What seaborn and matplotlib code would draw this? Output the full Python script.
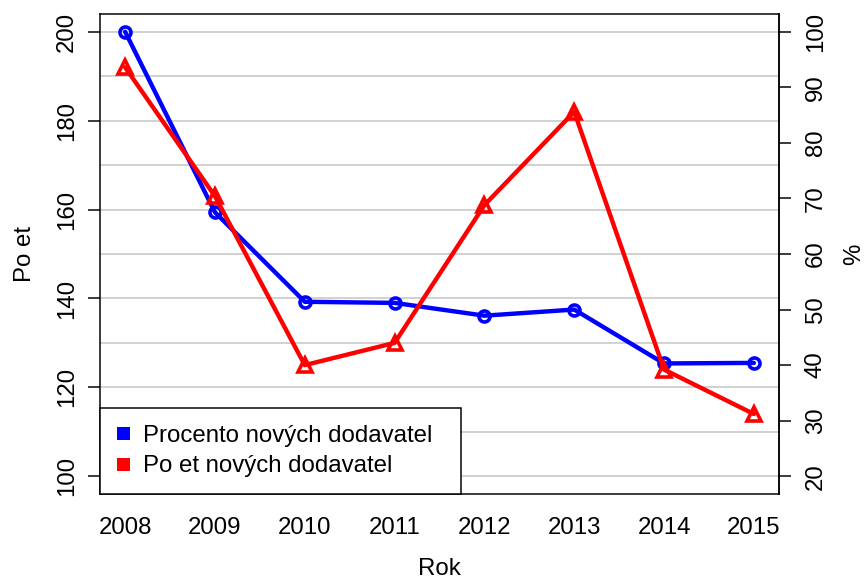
import matplotlib.pyplot as plt
import seaborn as sns
from matplotlib.lines import Line2D

# data
years = [2008, 2009, 2010, 2011, 2012, 2013, 2014, 2015]
procento = [100.0, 67.5, 51.4, 51.2, 48.9, 50.0, 40.3, 40.4]   # right axis (%)
pocet = [192, 163, 125, 130, 161, 182, 124, 114]               # left axis (count)

left_ticks = [100, 120, 140, 160, 180, 200]
grid_levels = [100, 110, 120, 130, 140, 150, 160, 170, 180, 190, 200]
right_ticks = [20, 30, 40, 50, 60, 70, 80, 90, 100]

legend_labels = ["Procento nových dodavatel", "Po et nových dodavatel"]

sns.set_style("white")
plt.rcParams['font.family'] = ['Liberation Sans', 'DejaVu Sans']
plt.rcParams['font.size'] = 12
for key in ('text.color', 'axes.labelcolor', 'xtick.color', 'ytick.color'):
    plt.rcParams[key] = 'black'

fig = plt.figure(figsize=(6, 581 / 144), dpi=144)
ax = fig.add_axes([100 / 864, 1 - 494 / 581, 679 / 864, 480 / 581])
ax2 = ax.twinx()   # percent scale, blue line
ax3 = ax.twinx()   # count scale again, red line on top

# grid on the bottom axes
ax.set_ylim(96, 204)
ax.set_yticks(left_ticks)
ax.set_yticks(grid_levels, minor=True)
ax.grid(True, axis='y', which='both', color='#c8c8c8', linewidth=0.8)
ax.tick_params(axis='y', which='minor', length=0)

ax2.set_ylim(16.8, 103.2)
ax2.set_yticks(right_ticks)
ax3.set_ylim(96, 204)
ax3.yaxis.set_visible(False)

sns.lineplot(x=years, y=procento, ax=ax2, color='blue', linewidth=2.2,
             marker='o', markersize=5.5, markeredgewidth=1.8,
             markerfacecolor='none', markeredgecolor='blue', legend=False)
sns.lineplot(x=years, y=pocet, ax=ax3, color='red', linewidth=2.2,
             marker='^', markersize=7, markeredgewidth=1.8,
             markerfacecolor='none', markeredgecolor='red', legend=False)

ax.set_xlim(2007.72, 2015.28)
ax.set_xticks(years)
ax.set_xticklabels([str(y) for y in years])

for a in (ax, ax2, ax3):
    for s in a.spines.values():
        s.set_color('black')
        s.set_linewidth(0.75)
ax3.spines[:].set_visible(False)
ax2.spines[['left', 'top', 'bottom']].set_visible(False)

ax.tick_params(axis='x', which='major', direction='out', length=5.5, width=0.75,
               color='black', pad=6, labelsize=12)
ax.tick_params(axis='y', which='major', direction='out', length=6, width=0.75,
               color='black', pad=5, labelsize=12, left=True)
ax2.tick_params(axis='y', direction='out', length=6, width=0.75,
                color='black', pad=7, labelsize=12, right=True)
for lab in ax.get_yticklabels():
    lab.set_rotation(90)
    lab.set_va('center')
for lab in ax2.get_yticklabels():
    lab.set_rotation(90)
    lab.set_va('center')

ax.set_xlabel("Rok", fontsize=12, labelpad=9.5)
ax.set_ylabel("Po et", fontsize=12, labelpad=10)
ax2.set_ylabel("%", fontsize=12, labelpad=8)
ax3.set_xlabel("")
ax2.set_xlabel("")

handles = [Line2D([], [], marker='s', color='blue', linestyle='none', markersize=5.5),
           Line2D([], [], marker='s', color='red', linestyle='none', markersize=5.5)]
leg = ax3.legend(handles, legend_labels, loc='lower left',
                 bbox_to_anchor=(0, 0, 361 / 679, 0.18), mode='expand',
                 borderaxespad=0, fancybox=False, edgecolor='black', framealpha=1,
                 fontsize=12, handlelength=0.5, handletextpad=0.6,
                 borderpad=0.7, labelspacing=0.35)
leg.get_frame().set_linewidth(0.75)

fig.savefig("out.png", dpi=144)
